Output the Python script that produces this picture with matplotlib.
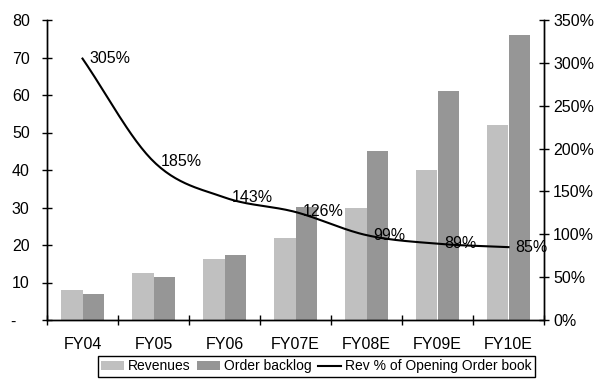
import numpy as np
import matplotlib
matplotlib.use("Agg")
import matplotlib.pyplot as plt

plt.rcParams["font.family"] = ["Liberation Sans", "DejaVu Sans"]
plt.rcParams["font.size"] = 11.5

# Order book data (US$ m) and revenue coverage
years = ["FY04", "FY05", "FY06", "FY07E", "FY08E", "FY09E", "FY10E"]
revenues = [8.0, 12.5, 16.3, 21.9, 29.9, 40.0, 52.0]
backlog = [6.9, 11.5, 17.3, 30.1, 45.0, 61.0, 76.0]
rev_pct = [305, 185, 143, 126, 99, 89, 85]


def smooth(xs, ys, n=30):
    # Catmull-Rom curve through the points, like a spreadsheet "smoothed line"
    xs = np.asarray(xs, float)
    ys = np.asarray(ys, float)
    px = np.concatenate([[2 * xs[0] - xs[1]], xs, [2 * xs[-1] - xs[-2]]])
    py = np.concatenate([[2 * ys[0] - ys[1]], ys, [2 * ys[-1] - ys[-2]]])
    out_x, out_y = [], []
    t = np.linspace(0, 1, n)
    for i in range(1, len(px) - 2):
        for p, out in ((px, out_x), (py, out_y)):
            p0, p1, p2, p3 = p[i - 1], p[i], p[i + 1], p[i + 2]
            seg = 0.5 * ((2 * p1) + (-p0 + p2) * t
                         + (2 * p0 - 5 * p1 + 4 * p2 - p3) * t ** 2
                         + (-p0 + 3 * p1 - 3 * p2 + p3) * t ** 3)
            out.extend(seg)
    return np.array(out_x), np.array(out_y)


x = np.arange(len(years))
w = 0.3

fig = plt.figure(figsize=(5.97, 3.83), dpi=100)
ax = fig.add_axes([47 / 597, 63 / 383, 497 / 597, 300 / 383])
ax2 = ax.twinx()

b1 = ax.bar(x - w / 2, revenues, w, color="#c0c0c0", label="Revenues")
b2 = ax.bar(x + w / 2, backlog, w, color="#969696", label="Order backlog")

sx, sy = smooth(x, rev_pct)
ln, = ax2.plot(sx, sy, color="black", lw=1.5, label="Rev % of Opening Order book")
for xi, v in zip(x, rev_pct):
    ax2.annotate(f"{v}%", (xi, v), xytext=(5, 0), textcoords="offset points",
                 ha="left", va="center", fontsize=11.5)

ax.set_xlim(-0.5, len(years) - 0.5)
ax.set_ylim(0, 80)
ax2.set_ylim(0, 350)

ax.set_yticks(range(0, 81, 10))
ax.set_yticklabels(["-   "] + [str(v) for v in range(10, 81, 10)])
ax2.set_yticks(range(0, 351, 50))
ax2.set_yticklabels([f"{v}%" for v in range(0, 351, 50)])

ax.set_xticks(np.arange(-0.5, len(years), 1))
ax.set_xticklabels([])
ax.set_xticks(x, minor=True)
ax.set_xticklabels(years, minor=True)
ax.tick_params(axis="x", which="minor", length=0, pad=12)
ax.tick_params(axis="x", which="major", direction="inout", length=7, width=1)
ax.tick_params(axis="y", direction="inout", length=7, width=1, pad=9)
ax2.tick_params(axis="y", direction="inout", length=7, width=1, pad=3)

for a in (ax, ax2):
    a.spines["top"].set_visible(False)
    for s in ("left", "right", "bottom"):
        a.spines[s].set_linewidth(1)

fig.legend([b1, b2, ln], [b1.get_label(), b2.get_label(), ln.get_label()],
           loc="upper center", bbox_to_anchor=(0.53, 27 / 383), ncol=3,
           frameon=True, fancybox=False, edgecolor="black", framealpha=1,
           fontsize=10, handlelength=1.6, handleheight=0.7, handletextpad=0.3,
           columnspacing=0.5, borderpad=0.25, borderaxespad=0)

fig.savefig("out.png", dpi=100)
